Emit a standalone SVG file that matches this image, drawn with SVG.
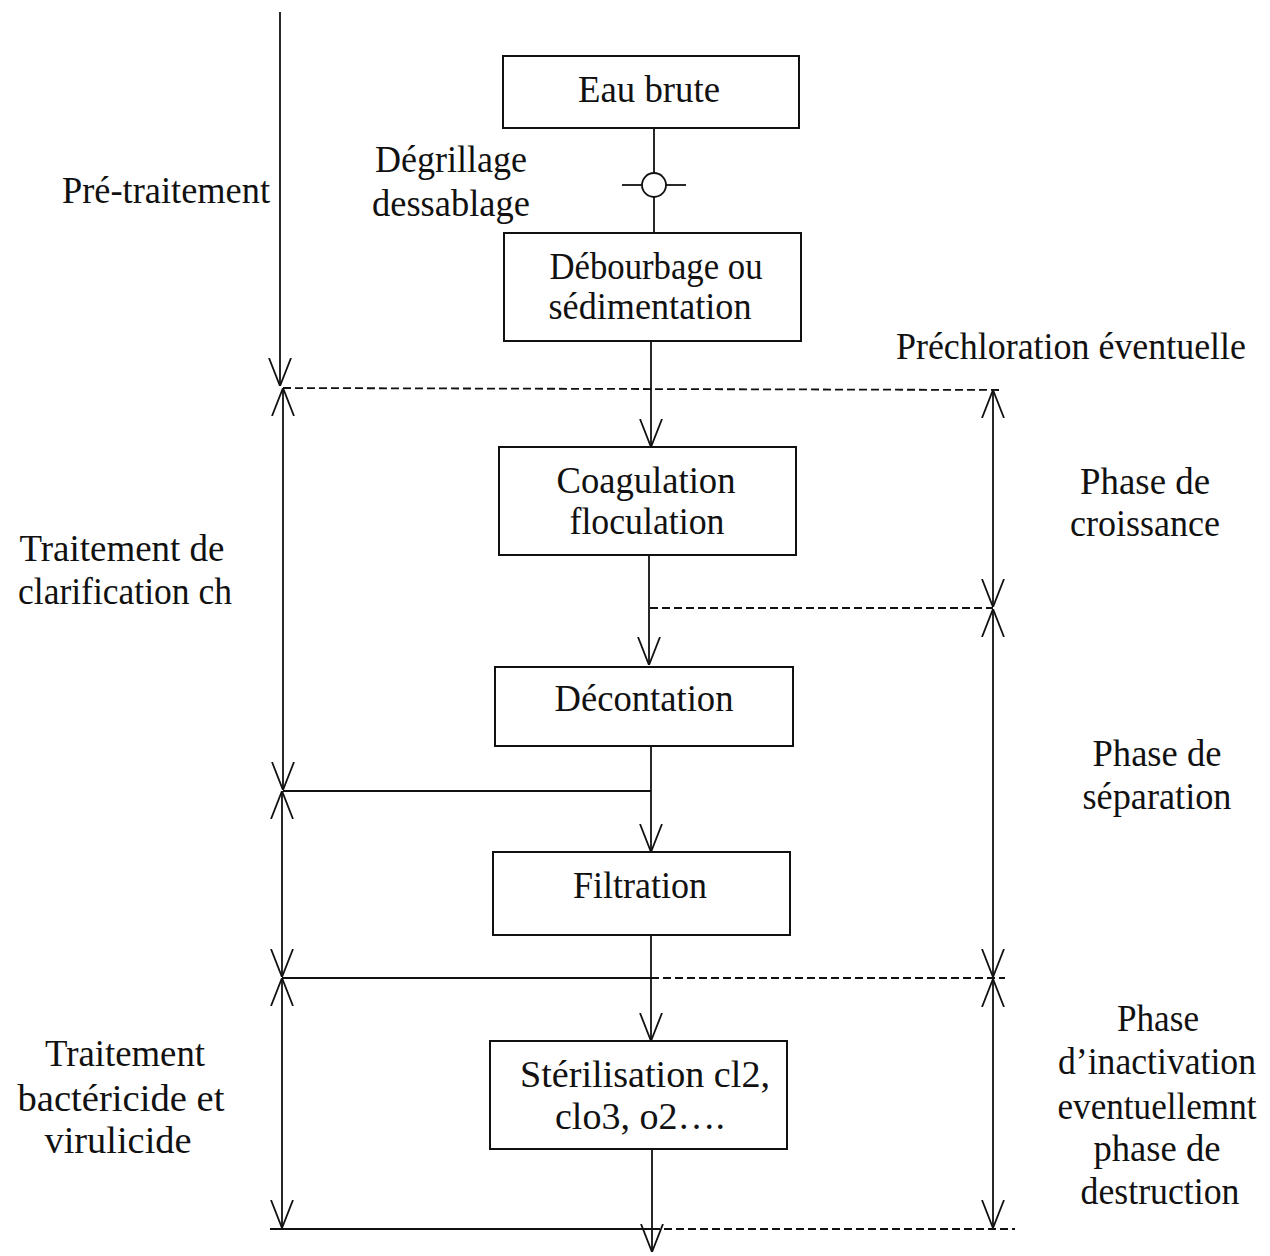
<svg xmlns="http://www.w3.org/2000/svg" width="1270" height="1256" viewBox="0 0 1270 1256">
<style>
.box{fill:#fff;stroke:#111;stroke-width:2}
.t{font-family:"Liberation Serif","Times New Roman",serif;font-size:37px;fill:#111;text-anchor:middle}
.ln{stroke:#111;stroke-width:1.8;fill:none}
.ds{stroke:#111;stroke-width:1.8;fill:none;stroke-dasharray:8 4}
</style>
<defs>
<marker id="ar" viewBox="0 0 28 24" refX="28" refY="12" markerWidth="28" markerHeight="24" markerUnits="userSpaceOnUse" orient="auto-start-reverse">
<path d="M0,1 L28,12 L0,23" fill="none" stroke="#111" stroke-width="1.8"/>
</marker>
</defs>
<rect width="1270" height="1256" fill="#fff"/>
<g id="connectors">
<line class="ln" x1="280" y1="12" x2="280" y2="386" marker-end="url(#ar)"/>
<line class="ds" x1="283" y1="388" x2="1000" y2="390"/>
<line class="ln" x1="283" y1="388" x2="283" y2="790" marker-start="url(#ar)" marker-end="url(#ar)"/>
<line class="ln" x1="283" y1="791" x2="651" y2="791"/>
<line class="ln" x1="282" y1="791" x2="282" y2="977" marker-start="url(#ar)" marker-end="url(#ar)"/>
<line class="ln" x1="282" y1="978" x2="651" y2="978"/>
<line class="ds" x1="651" y1="978" x2="1005" y2="978"/>
<line class="ln" x1="282" y1="978" x2="282" y2="1228" marker-start="url(#ar)" marker-end="url(#ar)"/>
<line class="ln" x1="270" y1="1229" x2="652" y2="1229"/>
<line class="ds" x1="652" y1="1229" x2="1015" y2="1229"/>
<line class="ln" x1="993" y1="390" x2="993" y2="607" marker-start="url(#ar)" marker-end="url(#ar)"/>
<line class="ln" x1="993" y1="609" x2="993" y2="977" marker-start="url(#ar)" marker-end="url(#ar)"/>
<line class="ln" x1="993" y1="979" x2="993" y2="1228" marker-start="url(#ar)" marker-end="url(#ar)"/>
<line class="ds" x1="650" y1="608" x2="993" y2="608"/>
<line class="ln" x1="654" y1="128" x2="654" y2="173"/>
<circle class="ln" cx="654" cy="185" r="12" fill="#fff"/>
<line class="ln" x1="622" y1="185" x2="642" y2="185"/>
<line class="ln" x1="666" y1="185" x2="686" y2="185"/>
<line class="ln" x1="654" y1="197" x2="654" y2="233"/>
<line class="ln" x1="651" y1="341" x2="651" y2="447" marker-end="url(#ar)"/>
<line class="ln" x1="649" y1="555" x2="649" y2="665" marker-end="url(#ar)"/>
<line class="ln" x1="651" y1="746" x2="651" y2="852" marker-end="url(#ar)"/>
<line class="ln" x1="651" y1="935" x2="651" y2="1041" marker-end="url(#ar)"/>
<line class="ln" x1="652" y1="1149" x2="652" y2="1252" marker-end="url(#ar)"/>
</g>
<g id="eau-brute"><rect class="box" x="503" y="56" width="296" height="72"/><text class="t" x="649" y="102" textLength="142" lengthAdjust="spacingAndGlyphs">Eau brute</text></g>
<g id="debourbage"><rect class="box" x="504" y="233" width="297" height="108"/><text class="t" x="656" y="279" textLength="213" lengthAdjust="spacingAndGlyphs">Débourbage ou</text><text class="t" x="650" y="319" textLength="203" lengthAdjust="spacingAndGlyphs">sédimentation</text></g>
<g id="coagulation"><rect class="box" x="499" y="447" width="297" height="108"/><text class="t" x="646" y="493" textLength="179" lengthAdjust="spacingAndGlyphs">Coagulation</text><text class="t" x="647" y="534" textLength="155" lengthAdjust="spacingAndGlyphs">floculation</text></g>
<g id="decontation"><rect class="box" x="495" y="667" width="298" height="79"/><text class="t" x="644" y="711" textLength="179" lengthAdjust="spacingAndGlyphs">Décontation</text></g>
<g id="filtration"><rect class="box" x="493" y="852" width="297" height="83"/><text class="t" x="640" y="898" textLength="134" lengthAdjust="spacingAndGlyphs">Filtration</text></g>
<g id="sterilisation"><rect class="box" x="490" y="1041" width="297" height="108"/><text class="t" x="645" y="1087" textLength="250" lengthAdjust="spacingAndGlyphs">Stérilisation cl2,</text><text class="t" x="640" y="1129" textLength="170" lengthAdjust="spacingAndGlyphs">clo3, o2….</text></g>
<g id="labels">
<text class="t" x="166" y="203" textLength="208" lengthAdjust="spacingAndGlyphs">Pré-traitement</text>
<text class="t" x="451" y="172" textLength="152" lengthAdjust="spacingAndGlyphs">Dégrillage</text>
<text class="t" x="451" y="216" textLength="158" lengthAdjust="spacingAndGlyphs">dessablage</text>
<text class="t" x="1071" y="359" textLength="350" lengthAdjust="spacingAndGlyphs">Préchloration éventuelle</text>
<text class="t" x="1145" y="494" textLength="130" lengthAdjust="spacingAndGlyphs">Phase de</text>
<text class="t" x="1145" y="536" textLength="150" lengthAdjust="spacingAndGlyphs">croissance</text>
<text class="t" x="122" y="561" textLength="205" lengthAdjust="spacingAndGlyphs">Traitement de</text>
<text class="t" x="125" y="604" textLength="214" lengthAdjust="spacingAndGlyphs">clarification ch</text>
<text class="t" x="1157" y="766" textLength="129" lengthAdjust="spacingAndGlyphs">Phase de</text>
<text class="t" x="1157" y="809" textLength="149" lengthAdjust="spacingAndGlyphs">séparation</text>
<text class="t" x="125" y="1066" textLength="160" lengthAdjust="spacingAndGlyphs">Traitement</text>
<text class="t" x="121" y="1111" textLength="207" lengthAdjust="spacingAndGlyphs">bactéricide et</text>
<text class="t" x="118" y="1153" textLength="147" lengthAdjust="spacingAndGlyphs">virulicide</text>
<text class="t" x="1158" y="1031" textLength="82" lengthAdjust="spacingAndGlyphs">Phase</text>
<text class="t" x="1157" y="1074" textLength="198" lengthAdjust="spacingAndGlyphs">d’inactivation</text>
<text class="t" x="1157" y="1119" textLength="199" lengthAdjust="spacingAndGlyphs">eventuellemnt</text>
<text class="t" x="1157" y="1161" textLength="127" lengthAdjust="spacingAndGlyphs">phase de</text>
<text class="t" x="1160" y="1204" textLength="159" lengthAdjust="spacingAndGlyphs">destruction</text>
</g>
</svg>
